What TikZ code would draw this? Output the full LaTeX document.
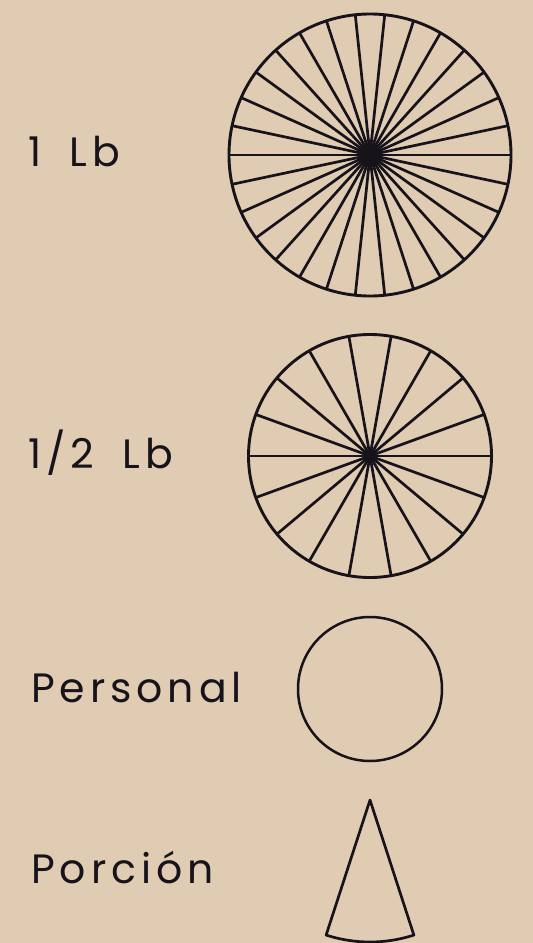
\documentclass[tikz,border=0pt]{standalone}
\usepackage{fontspec}
\setmainfont{Poppins}
\newfontfamily\labelfont{Poppins}[LetterSpace=12,WordSpace=1.8]
\usepackage{tikz}
\usetikzlibrary{positioning,calc}
\definecolor{cBack}{HTML}{E0CCB3}
\definecolor{cInk}{HTML}{16131A}

\begin{document}
\begin{tikzpicture}[
  x=1pt, y=-1pt,
  size/.style={
    anchor=base west, inner sep=0, text=cInk,
    font=\labelfont\fontsize{41}{41}\selectfont
  },
  pie/.style={
    circle, draw=cInk, line width=2.9pt,
    inner sep=0, outer sep=0
  },
  spoke/.style={draw=cInk, line width=2.7pt},
]
% Background
\fill[cBack] (0,0) rectangle (533,943);
\useasboundingbox (0,0) rectangle (533,943);
% Pies
\node[pie,minimum size=282pt] (full) at (370,155) {};
\node[pie,minimum size=243pt] (half) at (370,456) {};
\node[pie,minimum size=144pt,line width=2.5pt] (pers) at (370,689) {};
% Spokes
\foreach \a in {0,12,...,168}
  \draw[spoke] (full.\a) -- (full.\a+180);
\foreach \a in {0,20,...,160}
  \draw[spoke] (half.\a) -- (half.\a+180);
\fill[cInk] (full.center) circle (8);
\fill[cInk] (half.center) circle (5);
% Slice
\coordinate (tip) at (370,800);
\draw[spoke,line join=round] (tip) -- ++(108:142)
  arc[start angle=108, end angle=72, radius=142] -- cycle;
% Labels
\node[size] (lbl1) at (28,166) {1 Lb};
\node[size] (lbl2) at (28,468) {1/2 Lb};
\node[size] (lbl3) at (31,702) {Personal};
\node[size] (lbl4) at (31,883) {Porción};
\end{tikzpicture}
\end{document}
